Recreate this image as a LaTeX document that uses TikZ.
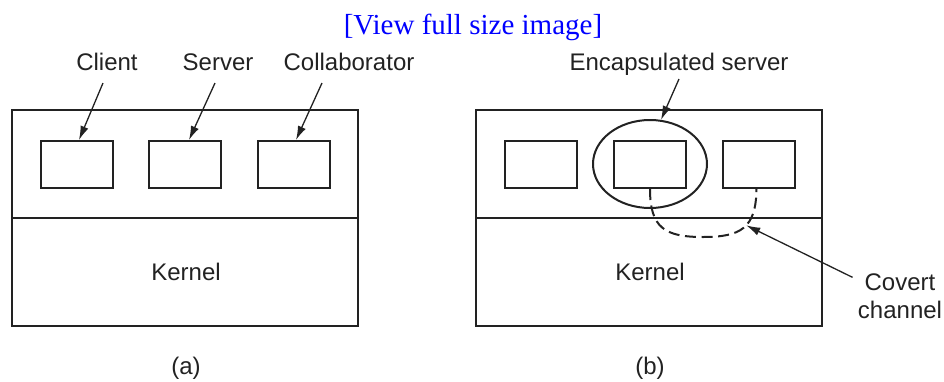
\documentclass[tikz,border=0pt]{standalone}
\usepackage{fontspec}
\setmainfont{Liberation Sans}
\newfontfamily\linkfont{Liberation Serif}
\usetikzlibrary{calc,arrows.meta,shapes.geometric}
\definecolor{inkgrey}{HTML}{222222}
\definecolor{linkblue}{HTML}{0000FF}

\tikzset{
  procbox/.style={draw=inkgrey,line width=1pt,minimum width=36pt,minimum height=23.5pt,inner sep=0pt},
  lbl/.style={text=inkgrey,font=\fontsize{12}{13.75}\selectfont,inner sep=0pt},
  pointer/.style={draw=inkgrey,line width=0.65pt,-{Latex[length=7pt,width=4.2pt]}},
}

\begin{document}
\begin{tikzpicture}[x=0.5pt,y=-0.5pt]
  \useasboundingbox (0,0) rectangle (944,381);
  \node[text=linkblue,font=\linkfont\fontsize{14.5}{17}\selectfont,inner sep=0pt] (viewlink) at (473,27) {[View full size image]};

  % (a)
  \draw[inkgrey,line width=1pt] (12,110) rectangle (358,326);
  \draw[inkgrey,line width=1pt] (12,218) -- (358,218);
  \node[procbox] (client) at (76.5,164.5) {};
  \node[procbox] (server) at (184.5,164.5) {};
  \node[procbox] (collab) at (294,164.5) {};
  \node[lbl,anchor=base] (lclient) at (107,70) {Client};
  \node[lbl,anchor=base] (lserver) at (218,70) {Server};
  \node[lbl,anchor=base] (lcollab) at (349,70) {Collaborator};
  \draw[pointer] ($(lclient.base)+(-4,13)$) -- ($(client.north)+(2.5,0)$);
  \draw[pointer] ($(lserver.base)+(-3,13)$) -- ($(server.north)+(4.5,0)$);
  \draw[pointer] ($(lcollab.base)+(-27,13)$) -- ($(collab.north)+(2,0)$);
  \node[lbl] (kernela) at (186,272) {Kernel};
  \node[lbl] (capa) at (186,368) {(a)};

  % (b)
  \draw[inkgrey,line width=1pt] (476,110) rectangle (822,326);
  \draw[inkgrey,line width=1pt] (476,218) -- (822,218);
  \node[procbox] (bleft) at (540.5,164.5) {};
  \node[procbox] (bmid) at (649.5,164.5) {};
  \node[procbox] (bright) at (758.5,164.5) {};
  \node[draw=inkgrey,line width=1pt,ellipse,minimum width=57pt,minimum height=44pt,inner sep=0pt] (encap) at (650,164) {};
  \node[lbl,anchor=base] (lencap) at (679,70) {Encapsulated server};
  \draw[pointer] ($(lencap.base)+(0,9)$) -- (encap.76);
  \draw[inkgrey,line width=1pt,dash pattern=on 5.5pt off 2.8pt]
    ($(bmid.south)+(0.5,0)$) .. controls (650,228) and (665,237) .. (703,237)
    .. controls (741,237) and (756,228) .. ($(bright.south)+(-2,0)$) coordinate[pos=0.55] (leak);
  \node[lbl,align=center] (lcovert) at (900,296) {Covert\\channel};
  \draw[pointer] ($(lcovert.north west)+(-5,4)$) -- (leak);
  \node[lbl] (kernelb) at (650,272) {Kernel};
  \node[lbl] (capb) at (650,368) {(b)};
\end{tikzpicture}
\end{document}
